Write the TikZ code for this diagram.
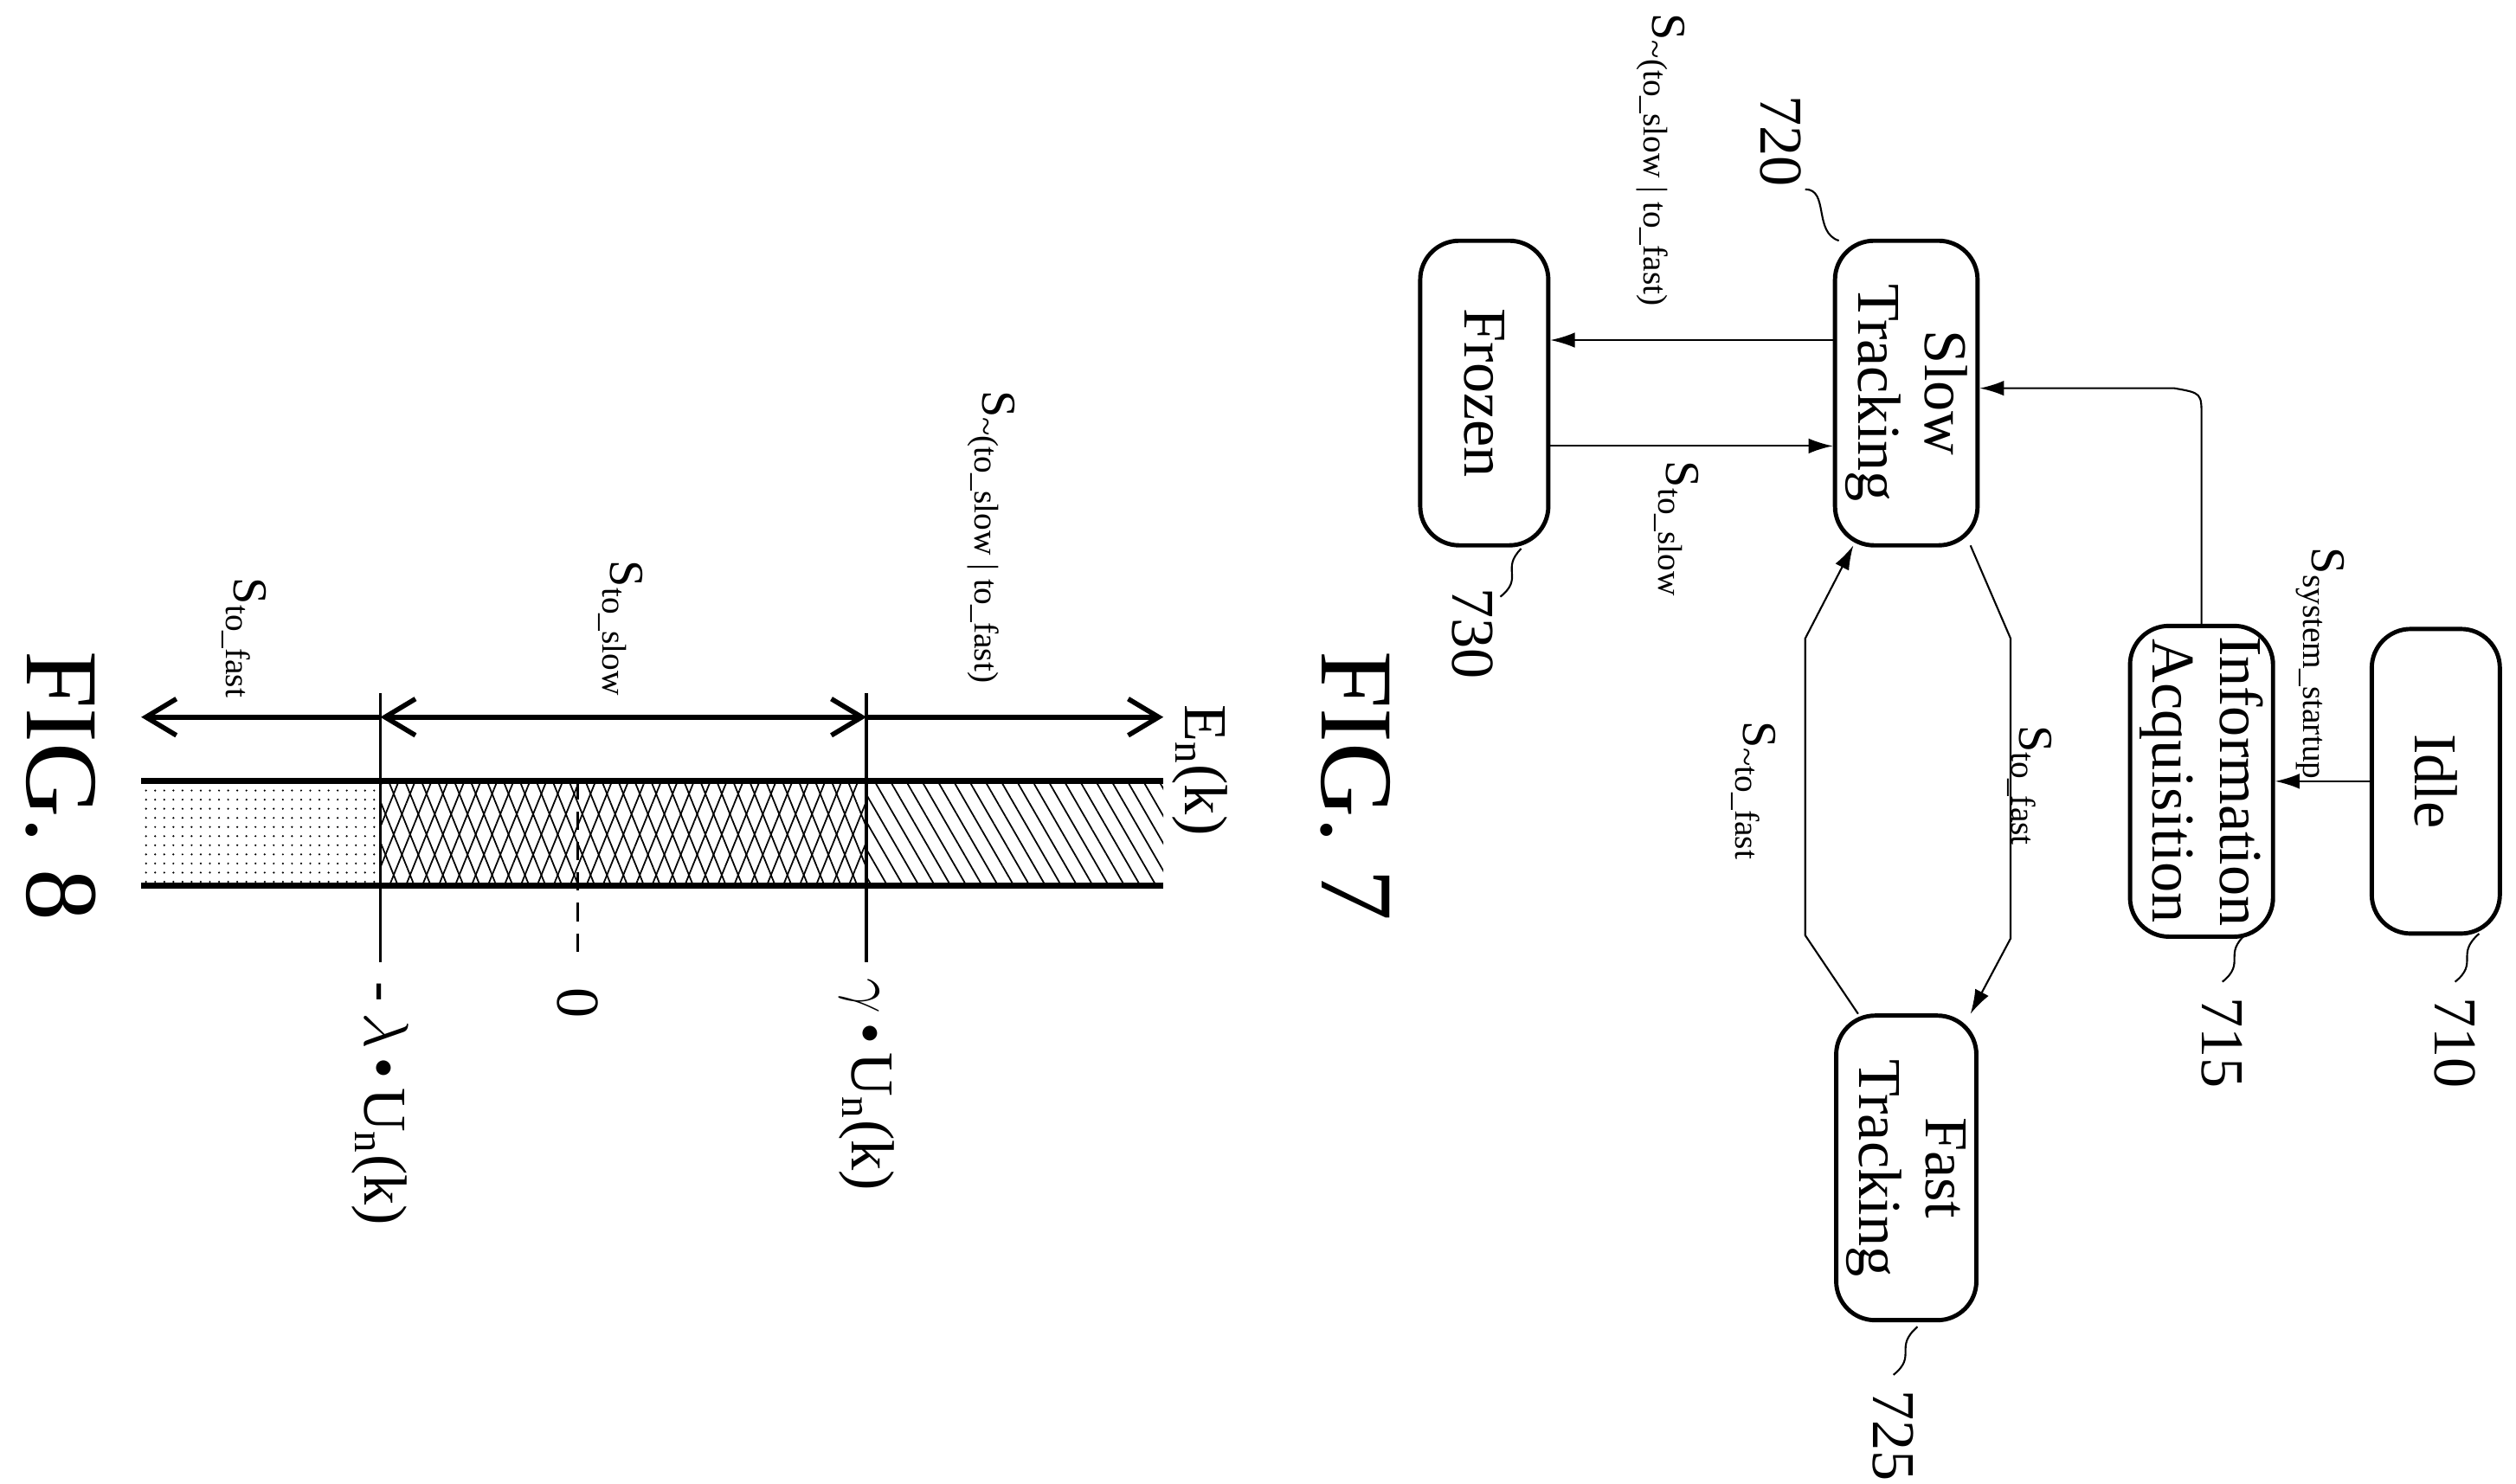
\documentclass[tikz,border=0pt]{standalone}
\usepackage{fontspec}
\setmainfont{Liberation Serif}
\usetikzlibrary{patterns,patterns.meta,arrows.meta}
\newcommand\bul{\raisebox{0.15em}{\scalebox{0.6}{$\bullet$}}}
\begin{document}
\begin{tikzpicture}[x=0.01854cm,y=-0.01854cm,
 box/.style={draw,line width=1.4pt,rounded corners=0.45cm,rotate=-90,minimum width=3.52cm,minimum height=1.48cm,align=center,font=\fontsize{20}{22}\selectfont},
 lab/.style={rotate=-90,font=\fontsize{20}{22}\selectfont},
 sl/.style={rotate=-90,font=\fontsize{16}{18}\selectfont},
 con/.style={-{Latex[length=8pt,width=5pt]},line width=0.6pt},
 big/.style={-{Straight Barb[length=10pt,width=12pt]},line width=1.6pt},
 fig/.style={rotate=-90,font=\fontsize{34}{38}\selectfont}]
\useasboundingbox (0,0) rectangle (1568,925);
% FIG 7 boxes
\node[box] (slow) at (1188,245) {Slow\\Tracking};
\node[box] (frozen) at (925,245) {Frozen};
\node[box] (idle) at (1518,487) {Idle};
\node[box] (info) at (1372,487) {Information\\Acquisition};
\node[box] (fast) at (1188,728) {Fast\\Tracking};
% connectors
\draw[con] (idle.south) -- (info.north);
\draw[con] (info.west) -- (1372,260) .. controls (1372,245) .. (1355,242) -- (slow.north |- 0,242);
\draw[con] (slow.south |- 0,212) -- (frozen.north |- 0,212);
\draw[con] (frozen.north |- 0,278) -- (slow.south |- 0,278);
\draw[con] (1228,340) -- (1253,398) -- (1253,585) -- (1228,632);
\draw[con] (1158,632) -- (1125,583) -- (1125,398) -- (1155,340);
% connector labels
\node[sl] at (1446,414) {S\textsubscript{system\_startup}};
\node[sl] at (1035,100) {S\textsubscript{\textasciitilde(to\_slow | to\_fast)}};
\node[sl] at (1045,330) {S\textsubscript{to\_slow}};
\node[sl] at (1265,490) {S\textsubscript{to\_fast}};
\node[sl] at (1093,493) {S\textsubscript{\textasciitilde to\_fast}};
% reference numerals
\draw[line width=0.6pt] (1125,118) .. controls (1140,118) and (1130,145) .. (1146,150);
\node[lab] at (1110,88) {720};
\draw[line width=0.6pt] (948,342) .. controls (935,355) and (950,360) .. (935,372);
\node[lab] at (918,395) {730};
\draw[line width=0.6pt] (1545,582) .. controls (1530,595) and (1545,600) .. (1530,612);
\node[lab] at (1530,650) {710};
\draw[line width=0.6pt] (1400,582) .. controls (1385,595) and (1400,600) .. (1385,612);
\node[lab] at (1385,650) {715};
\draw[line width=0.6pt] (1195,827) .. controls (1180,840) and (1195,845) .. (1180,857);
\node[lab] at (1180,895) {725};
\node[fig] (f7) at (845,490) {FIG. 7};
% FIG 8
\fill[pattern={Lines[angle=-60,distance=4.5pt,line width=0.5pt]}] (540,487) rectangle (725,552);
\fill[pattern={Lines[angle=68,distance=5pt,line width=0.5pt]}] (237,487) rectangle (540,552);
\fill[pattern={Lines[angle=-68,distance=5pt,line width=0.5pt]}] (237,487) rectangle (540,552);
\fill[pattern={Dots[distance=3pt,radius=0.35pt]}] (88,487) rectangle (237,552);
\coordinate (t1) at (88,487); \coordinate (t2) at (725,487);
\coordinate (b1) at (88,552); \coordinate (b2) at (725,552);
\draw[line width=2pt] (t1) -- (t2); \draw[line width=2pt] (b1) -- (b2);
\coordinate (g1) at (540,432); \coordinate (g2) at (540,600);
\coordinate (l1) at (237,432); \coordinate (l2) at (237,600);
\draw[line width=1pt] (g1) -- (g2); \draw[line width=1pt] (l1) -- (l2);
\draw[line width=1pt,dash pattern=on 6pt off 4pt] (360,487) -- (360,600);
\coordinate (ag) at (540,447); \coordinate (al) at (237,447);
\coordinate (ar) at (725,447); \coordinate (aL) at (88,447);
\draw[big] (ag) -- (ar);
\draw[big] (al) -- (aL);
\draw[big,{Straight Barb[length=10pt,width=12pt]}-{Straight Barb[length=10pt,width=12pt]}] (al) -- (ag);
\node[lab] at (748,480) {E\textsubscript{n}(k)};
\node[sl] at (618,335) {S\textsubscript{\textasciitilde(to\_slow | to\_fast)}};
\node[sl] at (387,392) {S\textsubscript{to\_slow}};
\node[sl] at (152,398) {S\textsubscript{to\_fast}};
\node[lab] at (540,676) {$\gamma$\,\bul\,U\textsubscript{n}(k)};
\node[lab] at (360,625) {0};
\node[lab] at (237,688) {-\,$\lambda$\,\bul\,U\textsubscript{n}(k)};
\node[fig] (f8) at (38,490) {FIG. 8};
\end{tikzpicture}
\end{document}
